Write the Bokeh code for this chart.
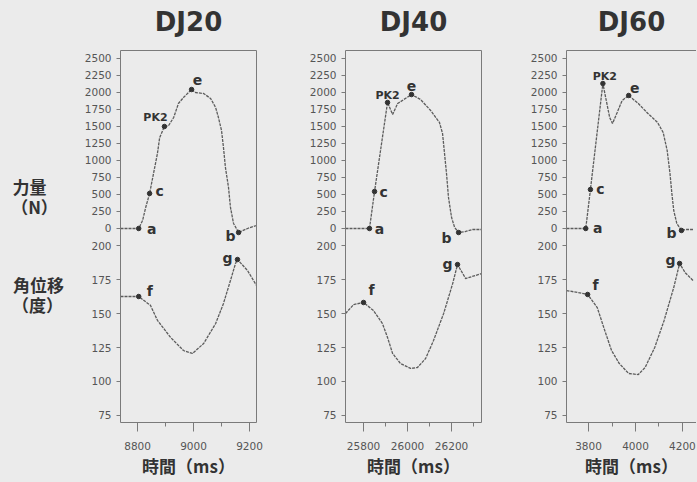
from bokeh.plotting import figure
from bokeh.models import Range1d, LinearAxis, FixedTicker, ColumnDataSource, CustomJSTickFormatter
from bokeh.layouts import row
from bokeh.embed import file_html
from bokeh.resources import INLINE
from bokeh.core.properties import value

# ---------------- data ----------------
titles = ["DJ20", "DJ40", "DJ60"]

force_ticks = [0, 250, 500, 750, 1000, 1250, 1500, 1750, 2000, 2250, 2500]
angle_ticks = [75, 100, 125, 150, 175, 200]

# DJ20
dj20_xticks = [8800, 9000, 9200]
dj20_xminor = [8900, 9100]
dj20_force_t = [8739, 8804, 8818, 8829, 8843, 8857, 8871, 8879, 8896, 8911, 8929, 8946, 8964, 8993,
                9007, 9036, 9061, 9079, 9089, 9100, 9107, 9114, 9125, 9132, 9143, 9161, 9193, 9225]
dj20_force = [0, 0, 118, 309, 515, 809, 1103, 1338, 1500, 1515, 1632, 1838, 1926, 2044,
              2000, 1985, 1912, 1779, 1632, 1441, 1191, 897, 603, 309, 74, -59, 0, 44]
dj20_angle_t = [8739, 8804, 8846, 8871, 8918, 8964, 8996, 9036, 9079, 9107, 9132, 9150, 9157, 9193, 9225]
dj20_angle = [162.5, 162.5, 156, 145, 132.4, 122.8, 120.6, 127.9, 142.6, 157.4, 174.3, 186.8, 189.7, 181.6, 170.6]
dj20_fkey_name = ["a", "c", "PK2", "e", "b"]
dj20_fkey_t = [8804, 8843, 8896, 8993, 9161]
dj20_fkey_v = [0, 515, 1500, 2044, -59]
dj20_akey_name = ["f", "g"]
dj20_akey_t = [8804, 9157]
dj20_akey_v = [162.5, 189.7]

# DJ40
dj40_xticks = [25800, 26000, 26200]
dj40_xminor = [25900, 26100, 26300]
dj40_force_t = [25718, 25827, 25850, 25909, 25932, 25955, 26018, 26059, 26105, 26145, 26159, 26168,
                26177, 26186, 26200, 26214, 26232, 26264, 26295, 26336]
dj40_force = [0, 0, 544, 1853, 1676, 1838, 1970, 1897, 1735, 1559, 1397, 1103,
              809, 456, 162, 15, -59, -44, -15, -15]
dj40_angle_t = [25718, 25755, 25800, 25845, 25886, 25909, 25932, 25968, 26014, 26045, 26082, 26118,
                26164, 26205, 26227, 26264, 26336]
dj40_angle = [150, 156.6, 158.1, 152.2, 142.6, 132.4, 120.6, 113.2, 109.6, 110.3, 116.9, 130.1,
              150, 172, 186, 175.7, 179.4]
dj40_fkey_name = ["a", "c", "PK2", "e", "b"]
dj40_fkey_t = [25827, 25850, 25909, 26018, 26232]
dj40_fkey_v = [0, 544, 1853, 1970, -59]
dj40_akey_name = ["f", "g"]
dj40_akey_t = [25800, 26227]
dj40_akey_v = [158.1, 186]

# DJ60
dj60_xticks = [3800, 4000, 4200]
dj60_xminor = [3900, 4100]
dj60_force_t = [3706, 3788, 3808, 3861, 3890, 3902, 3922, 3943, 3971, 4012, 4053, 4094, 4118, 4135,
                4147, 4155, 4163, 4176, 4196, 4212, 4245]
dj60_force = [0, 0, 573, 2132, 1632, 1544, 1706, 1882, 1956, 1838, 1691, 1559, 1412, 1147,
              809, 515, 265, 74, -29, -15, -15]
dj60_angle_t = [3706, 3755, 3796, 3837, 3869, 3898, 3931, 3971, 4012, 4041, 4082, 4122, 4163, 4188, 4212, 4245]
dj60_angle = [166.9, 165.4, 164, 154.4, 137.5, 122.8, 113.2, 105.9, 105.1, 110.3, 125, 144.9, 169.1, 186.8, 180, 174.3]
dj60_fkey_name = ["a", "c", "PK2", "e", "b"]
dj60_fkey_t = [3788, 3808, 3861, 3971, 4196]
dj60_fkey_v = [0, 573, 2132, 1956, -29]
dj60_akey_name = ["f", "g"]
dj60_akey_t = [3796, 4188]
dj60_akey_v = [164, 186.8]

# ---------------- styles / layout ----------------
BG = "#ebebeb"
INK = "#333333"
LINE = "#5c5c5c"
AXIS = "#7a7a7a"
TICKTXT = "#555555"

# shared vertical frame: angle scale (primary) and force scale (extra range)
A_LO, A_HI = 69.85, 343.4
F_LO, F_HI = -2853.0, 2617.6
FIG_H = 480

panels = [
    dict(title=titles[0], xr=(8739, 9225), xt=dj20_xticks, xm=dj20_xminor,
         ft=dj20_force_t, fv=dj20_force, at=dj20_angle_t, av=dj20_angle,
         fk=(dj20_fkey_name, dj20_fkey_t, dj20_fkey_v), ak=(dj20_akey_name, dj20_akey_t, dj20_akey_v),
         width=222, bl=52, br=34, right=True,
         off={"a": (13, 1), "c": (10, -2), "PK2": (-9, -9), "e": (6, -10), "b": (-8, 3), "f": (11, -6), "g": (-10, -2)}),
    dict(title=titles[1], xr=(25718, 26336), xt=dj40_xticks, xm=dj40_xminor,
         ft=dj40_force_t, fv=dj40_force, at=dj40_angle_t, av=dj40_angle,
         fk=(dj40_fkey_name, dj40_fkey_t, dj40_fkey_v), ak=(dj40_akey_name, dj40_akey_t, dj40_akey_v),
         width=226, bl=55, br=35, right=True,
         off={"a": (10, 1), "c": (9, 0), "PK2": (0, -7), "e": (0, -9), "b": (-12, 5), "f": (8, -12), "g": (-10, -1)}),
    dict(title=titles[2], xr=(3706, 4260), xt=dj60_xticks, xm=dj60_xminor,
         ft=dj60_force_t, fv=dj60_force, at=dj60_angle_t, av=dj60_angle,
         fk=(dj60_fkey_name, dj60_fkey_t, dj60_fkey_v), ak=(dj60_akey_name, dj60_akey_t, dj60_akey_v),
         width=180, bl=50, br=0, right=False,
         off={"a": (12, 0), "c": (10, -1), "PK2": (2, -7), "e": (6, -7), "b": (-10, 3), "f": (8, -9), "g": (-9, -3)}),
]


def frame_axis(**kw):
    return LinearAxis(ticker=FixedTicker(ticks=[]), major_tick_out=0, major_tick_in=0,
                      minor_tick_out=0, minor_tick_in=0, major_label_text_font_size="0px",
                      major_label_standoff=0, axis_line_color=AXIS, axis_line_width=1, **kw)


def keys_source(names, ts, vs, off):
    return ColumnDataSource(dict(
        x=ts, y=vs, name=names,
        dx=[off[n][0] for n in names], dy=[off[n][1] for n in names],
        size=["11px" if n == "PK2" else "14px" for n in names]))


# tick positions of the force scale expressed on the shared (angle) axis
force_on_axis = [A_LO + (f - F_LO) * (A_HI - A_LO) / (F_HI - F_LO) for f in force_ticks]
tick_formatter_code = """
if (tick > 206) {
  return String(Math.round(flo + (tick - alo) * (fhi - flo) / (ahi - alo)));
}
return String(Math.round(tick));
"""


def make_panel(P):
    p = figure(width=P["width"], height=FIG_H, x_range=Range1d(*P["xr"]), y_range=Range1d(A_LO, A_HI),
               output_backend="svg", toolbar_location=None,
               min_border_left=P["bl"], min_border_right=P["br"], min_border_top=50, min_border_bottom=58,
               background_fill_color=BG, border_fill_color=BG, outline_line_color=None,
               x_axis_location=None, y_axis_location=None)
    p.extra_y_ranges = {"force": Range1d(F_LO, F_HI)}
    p.grid.visible = False

    # top frame line, carrying the panel title as its label
    top = frame_axis(axis_label=P["title"])
    top.axis_label_text_font = "DejaVu Sans"
    top.axis_label_text_font_size = "26px"
    top.axis_label_text_font_style = "bold"
    top.axis_label_text_color = INK
    top.axis_label_standoff = 14
    p.add_layout(top, "above")

    # left axis: force ticks on top part, angle ticks on bottom part
    yax = LinearAxis(ticker=FixedTicker(ticks=angle_ticks + force_on_axis))
    yax.formatter = CustomJSTickFormatter(args=dict(alo=A_LO, ahi=A_HI, flo=F_LO, fhi=F_HI),
                                          code=tick_formatter_code)
    yax.axis_line_color = AXIS
    yax.major_tick_line_color = AXIS
    yax.major_tick_out = 4
    yax.major_tick_in = 0
    yax.minor_tick_line_color = None
    yax.major_label_text_font = "DejaVu Sans"
    yax.major_label_text_font_size = "10.5px"
    yax.major_label_text_color = TICKTXT
    yax.major_label_standoff = 5
    p.add_layout(yax, "left")

    if P["right"]:
        p.add_layout(frame_axis(), "right")

    xax = LinearAxis(ticker=FixedTicker(ticks=P["xt"], minor_ticks=P["xm"]), axis_label="時間（ms）")
    xax.axis_line_color = AXIS
    xax.major_tick_line_color = AXIS
    xax.minor_tick_line_color = AXIS
    xax.major_tick_out = 9
    xax.major_tick_in = 0
    xax.minor_tick_out = 4
    xax.minor_tick_in = 0
    xax.major_label_text_font = "DejaVu Sans"
    xax.major_label_text_font_size = "10.5px"
    xax.major_label_text_color = TICKTXT
    xax.major_label_standoff = 10
    xax.axis_label_text_font = "Noto Sans CJK TC"
    xax.axis_label_text_font_size = "17px"
    xax.axis_label_text_font_style = "bold"
    xax.axis_label_text_color = INK
    xax.axis_label_standoff = 0
    p.add_layout(xax, "below")

    # curves
    p.line(P["ft"], P["fv"], y_range_name="force", line_color=LINE, line_width=1.3, line_dash="3 1")
    p.line(P["at"], P["av"], line_color=LINE, line_width=1.3, line_dash="3 1")

    for rng, (names, ts, vs) in (("force", P["fk"]), ("default", P["ak"])):
        src = keys_source(names, ts, vs, P["off"])
        p.scatter("x", "y", source=src, size=4.5, color=INK, y_range_name=rng)
        p.text("x", "y", text="name", source=src, x_offset="dx", y_offset="dy", y_range_name=rng,
               text_font=value("DejaVu Sans"), text_font_style="bold", text_font_size="size",
               text_color=INK, text_align="center", text_baseline="middle")
    return p


# left label column (canvas pixel coordinates, y downward)
side = figure(width=68, height=FIG_H, x_range=Range1d(0, 68), y_range=Range1d(FIG_H, 0),
              output_backend="svg", toolbar_location=None, min_border=0,
              background_fill_color=BG, border_fill_color=BG, outline_line_color=None,
              x_axis_location=None, y_axis_location=None)
side.grid.visible = False
side_labels = ["力量", "（N）", "角位移", "（度）"]
side.text(x=[29, 34, 38, 37], y=[175, 201, 302, 328], text=side_labels,
          text_font=value("Noto Sans CJK TC"), text_font_size="17px", text_font_style="bold",
          text_color=INK, text_align="center", text_baseline="middle")

layout = row(side, *[make_panel(P) for P in panels])

html = file_html(layout, INLINE, title="DJ")
html = html.replace("</head>", "<style>html, body { background-color: %s; }</style></head>" % BG, 1)
open("out.html", "w").write(html)
